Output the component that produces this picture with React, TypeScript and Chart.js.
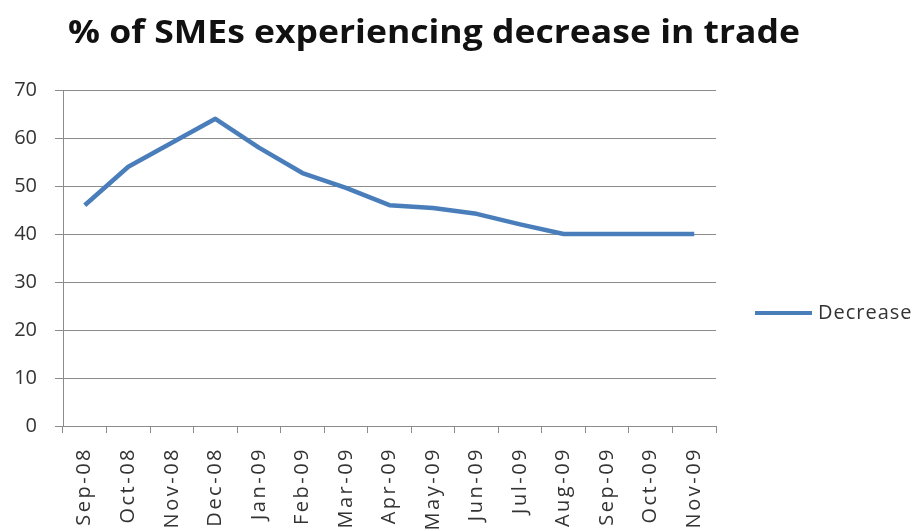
import React, { useEffect, useRef } from "react";
import { Chart, registerables } from "chart.js";

Chart.register(...registerables);

const titleText = "% of SMEs experiencing decrease in trade";
const seriesLabel = "Decrease";
const categories = [
  "Sep-08", "Oct-08", "Nov-08", "Dec-08", "Jan-09", "Feb-09", "Mar-09", "Apr-09",
  "May-09", "Jun-09", "Jul-09", "Aug-09", "Sep-09", "Oct-09", "Nov-09",
];
const decrease = [46, 54, 59, 64, 58, 52.7, 49.6, 46, 45.4, 44.2, 42, 40, 40, 40, 40];
const yMin = 0;
const yMax = 70;
const yStep = 10;

const LINE_COLOR = "#4a7ebb";
const GRID_COLOR = "#8c8c8c";
const TEXT_COLOR = "#333333";
const FONT = "'Open Sans', sans-serif";

// Title above the plot and a one-entry legend to its right
const decorations = {
  id: "decorations",
  afterDraw(chart: any) {
    const { ctx, chartArea } = chart;
    ctx.save();
    ctx.font = `bold 32px ${FONT}`;
    ctx.fillStyle = "#111";
    ctx.textBaseline = "alphabetic";
    ctx.textAlign = "left";
    const w = ctx.measureText(titleText).width;
    const target = 732;
    ctx.translate(68, 43);
    ctx.scale(target / w, 1);
    ctx.fillText(titleText, 0, 0);
    ctx.restore();

    const ds = chart.data.datasets[0];
    const ly = 313;
    const lx = chartArea.right + 39;
    ctx.save();
    ctx.strokeStyle = ds.borderColor;
    ctx.lineWidth = 4;
    ctx.lineCap = "butt";
    ctx.beginPath();
    ctx.moveTo(lx, ly);
    ctx.lineTo(lx + 57, ly);
    ctx.stroke();
    ctx.font = `20px ${FONT}`;
    (ctx as any).letterSpacing = "1px";
    ctx.fillStyle = TEXT_COLOR;
    ctx.textBaseline = "middle";
    ctx.textAlign = "left";
    ctx.fillText(ds.label, lx + 63, ly);
    ctx.restore();
  },
};

// Category labels on the x axis are set with wider letter spacing
function spaceOutLabels(scale: any) {
  if (scale._spaced) return;
  scale._spaced = true;
  const orig = scale.drawLabels.bind(scale);
  scale.drawLabels = (area: any) => {
    const ctx = scale.ctx;
    ctx.save();
    ctx.letterSpacing = "2.5px";
    orig(area);
    ctx.restore();
  };
}

export default function App() {
  const canvasRef = useRef<HTMLCanvasElement | null>(null);

  useEffect(() => {
    const canvas = canvasRef.current;
    if (!canvas) return;
    const chart = new Chart(canvas, {
      type: "line",
      data: {
        labels: categories,
        datasets: [
          {
            label: seriesLabel,
            data: decrease,
            borderColor: LINE_COLOR,
            backgroundColor: LINE_COLOR,
            borderWidth: 4.5,
            pointRadius: 0,
            tension: 0,
            borderJoinStyle: "round",
            borderCapStyle: "butt",
            fill: false,
          },
        ],
      },
      options: {
        responsive: false,
        animation: false,
        devicePixelRatio: 1,
        layout: { padding: { top: 90, right: 204, left: 0, bottom: 0 } },
        plugins: {
          legend: { display: false },
          title: { display: false },
          tooltip: { enabled: false },
        },
        scales: {
          x: {
            offset: true,
            grid: {
              offset: true,
              drawOnChartArea: false,
              drawTicks: true,
              tickLength: 7,
              color: GRID_COLOR,
            },
            border: { color: GRID_COLOR, width: 1 },
            ticks: {
              minRotation: 90,
              maxRotation: 90,
              autoSkip: false,
              padding: 14,
              color: TEXT_COLOR,
              font: { family: FONT, size: 20 },
            },
            afterFit(scale: any) {
              scale.height = 134;
            },
            afterUpdate(scale: any) {
              spaceOutLabels(scale);
            },
          },
          y: {
            min: yMin,
            max: yMax,
            grid: {
              color: GRID_COLOR,
              lineWidth: 1,
              drawTicks: true,
              tickLength: 8,
            },
            border: { color: GRID_COLOR, width: 1 },
            ticks: {
              stepSize: yStep,
              padding: 18,
              color: TEXT_COLOR,
              font: { family: FONT, size: 20 },
            },
            afterFit(scale: any) {
              scale.width = 63;
            },
          },
        },
      },
      plugins: [decorations],
    });
    return () => chart.destroy();
  }, []);

  return (
    <div
      style={{
        position: "fixed",
        left: 0,
        top: 0,
        width: 920,
        height: 531,
        overflow: "hidden",
        background: "#fff",
      }}
    >
      <canvas ref={canvasRef} width={920} height={560} />
    </div>
  );
}
